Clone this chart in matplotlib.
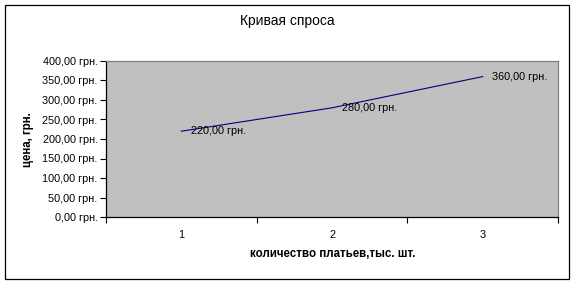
import matplotlib
matplotlib.use("Agg")
import matplotlib.pyplot as plt
from matplotlib.patches import Rectangle
from matplotlib.ticker import FixedLocator

plt.rcParams['font.family'] = ['Liberation Sans', 'DejaVu Sans']

# data
quantity = [1, 2, 3]
price = [220, 280, 360]
y_ticks = [0, 50, 100, 150, 200, 250, 300, 350, 400]

W, H = 575, 284
fig = plt.figure(figsize=(W / 100, H / 100), dpi=100)

# outer chart border
fig.patches.append(Rectangle((5 / W, 5 / H), (569 - 5) / W, (279 - 5) / H,
                             transform=fig.transFigure, fill=False,
                             edgecolor='black', linewidth=0.9))

ax = fig.add_axes([106 / W, 1 - 217 / H, (558 - 106) / W, (217 - 61) / H])
ax.set_facecolor('#C0C0C0')

ax.plot(quantity, price, color='#000080', linewidth=0.8)
for x, y in zip(quantity, price):
    ax.annotate(f"{y},00 грн.", (x, y), xytext=(7, 0), textcoords='offset points',
                va='center', ha='left', fontsize=7.8)

ax.set_xlim(0.5, 3.5)
ax.set_ylim(0, 400)
ax.set_yticks(y_ticks)
ax.set_yticklabels([f"{v},00 грн." for v in y_ticks], fontsize=7.8)
ax.set_xticks(quantity)
ax.set_xticklabels([str(q) for q in quantity], fontsize=7.8)
ax.xaxis.set_minor_locator(FixedLocator([0.5, 1.5, 2.5, 3.5]))
ax.tick_params(axis='x', which='major', length=0, pad=9)
ax.tick_params(axis='x', which='minor', length=4, width=0.8, direction='out')
ax.tick_params(axis='y', length=4, width=0.8, direction='out', pad=2)

for s in ['left', 'bottom']:
    ax.spines[s].set_color('black')
    ax.spines[s].set_linewidth(0.9)
for s in ['top', 'right']:
    ax.spines[s].set_color('#808080')
    ax.spines[s].set_linewidth(0.9)

fig.text(287 / W, 1 - 21 / H, "Кривая спроса", ha='center', va='center', fontsize=10)
fig.text(333 / W, 1 - 254 / H, "количество платьев,тыс. шт.", ha='center', va='center',
         fontsize=8.3, fontweight='bold')
fig.text(28 / W, 1 - 140 / H, "цена, грн.", ha='center', va='center', rotation=90,
         fontsize=8.3, fontweight='bold')

fig.savefig("out.png", dpi=100)
